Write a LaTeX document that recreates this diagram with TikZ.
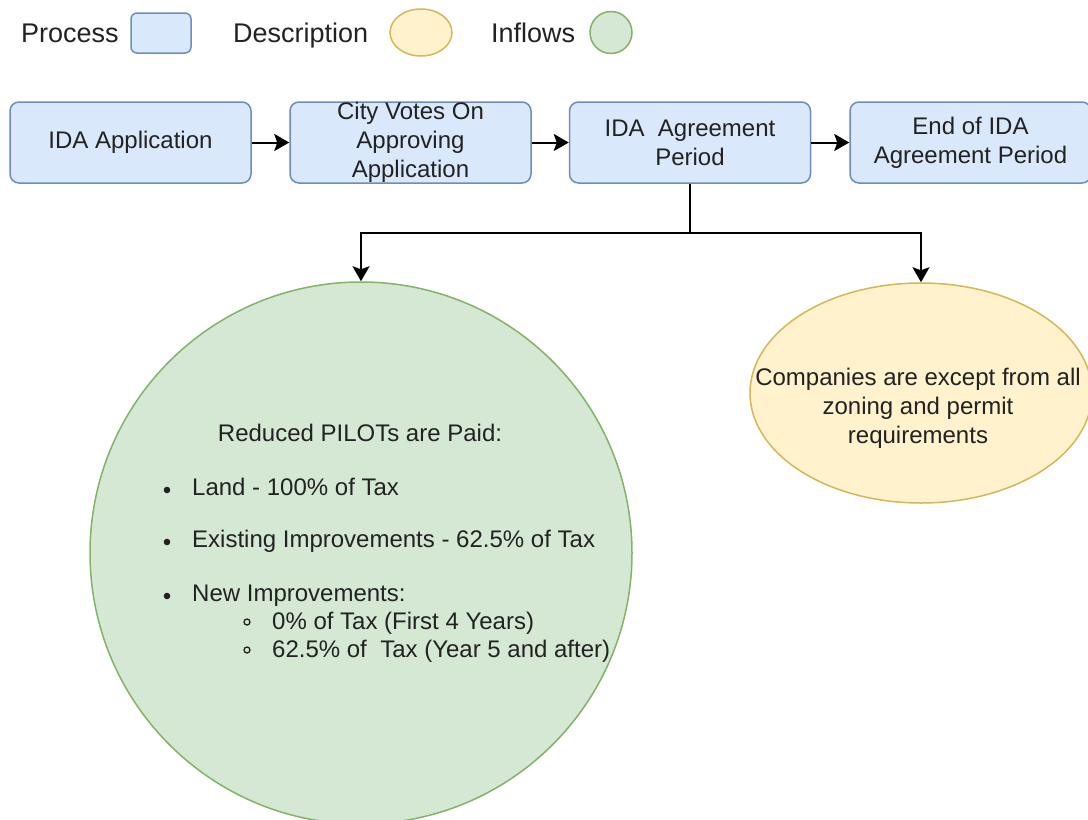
\documentclass[tikz,border=0pt]{standalone}
\usepackage{fontspec}
\setmainfont{Liberation Sans}
\usetikzlibrary{arrows.meta,shapes.geometric}
\definecolor{pfill}{HTML}{DAE8FC}
\definecolor{pline}{HTML}{6C8EBF}
\definecolor{dfill}{HTML}{FFF2CC}
\definecolor{dline}{HTML}{D6B656}
\definecolor{gfill}{HTML}{D5E8D4}
\definecolor{gline}{HTML}{82B366}
\definecolor{txtc}{HTML}{222222}
\begin{document}
\begin{tikzpicture}[x=1pt,y=-1pt,
 procbox/.style={rectangle, rounded corners=9pt, draw=pline, fill=pfill, line width=1.5pt, minimum width=241pt, minimum height=81pt, inner sep=0pt, align=center, font=\fontsize{24}{29}\selectfont, text=txtc},
 descshape/.style={ellipse, draw=dline, fill=dfill, line width=1.5pt, inner sep=0pt},
 inflshape/.style={circle, draw=gline, fill=gfill, line width=1.5pt, inner sep=0pt},
 bodytext/.style={font=\fontsize{24}{29}\selectfont, text=txtc, inner sep=0pt},
 legtext/.style={font=\fontsize{27}{32}\selectfont, text=txtc, inner sep=0pt, anchor=base west},
 conn/.style={line width=2pt, draw=black, -{Stealth[length=15pt,width=17pt,inset=3pt]}},
]
\useasboundingbox (0,0) rectangle (1088,820);
% legend
\node[legtext] (lp) at (21,42) {Process};
\node[procbox, minimum width=60pt, minimum height=40pt, rounded corners=6pt] (lpb) at (161,33) {};
\node[legtext] (ld) at (233,42) {Description};
\node[descshape, minimum width=62pt, minimum height=47pt] (lde) at (421,32.5) {};
\node[legtext] (li) at (491,42) {Inflows};
\node[inflshape, minimum size=42pt] (lie) at (611,32.5) {};
% process boxes
\node[procbox] (b1) at (130.5,142.5) {IDA Application};
\node[procbox] (b2) at (410.5,142.5) {City Votes On\\Approving\\Application};
\node[procbox] (b3) at (690,142.5) {IDA\ \ Agreement\\Period};
\node[procbox] (b4) at (970.5,142.5) {End of IDA\\Agreement Period};
\draw[conn] (b1) -- (b2);
\draw[conn] (b2) -- (b3);
\draw[conn] (b3) -- (b4);
% inflows circle and description ellipse
\node[inflshape, minimum size=542pt] (circ) at (361,553) {};
\node[descshape, minimum width=342pt, minimum height=220pt] (ell) at (921,393) {};
\coordinate (junc) at (690,233);
\draw[line width=2pt] (b3.south) -- (junc);
\draw[conn] (junc) -| (circ.north);
\draw[conn] (junc) -| (ell.north);
% ellipse text
\node[bodytext, align=center] (ellt) at (918,408) {Companies are except from all\\zoning and permit\\requirements};
% circle text
\node[bodytext, anchor=base] (ct0) at (360,441) {Reduced PILOTs are Paid:};
\node[bodytext, anchor=base west] (ct1) at (192,495) {Land - 100\% of Tax};
\node[bodytext, anchor=base west] (ct2) at (192,547) {Existing Improvements - 62.5\% of Tax};
\node[bodytext, anchor=base west] (ct3) at (192,601) {New Improvements:};
\node[bodytext, anchor=base west] (ct4) at (272,629) {0\% of Tax (First 4 Years)};
\node[bodytext, anchor=base west] (ct5) at (272,657) {62.5\% of\ \ Tax (Year 5 and after)};
\fill[txtc] (167,490) circle (3.3);
\fill[txtc] (167,542) circle (3.3);
\fill[txtc] (167,596) circle (3.3);
\draw[txtc, line width=1.3pt] (247,622) circle (3);
\draw[txtc, line width=1.3pt] (247,650) circle (3);
\end{tikzpicture}
\end{document}
